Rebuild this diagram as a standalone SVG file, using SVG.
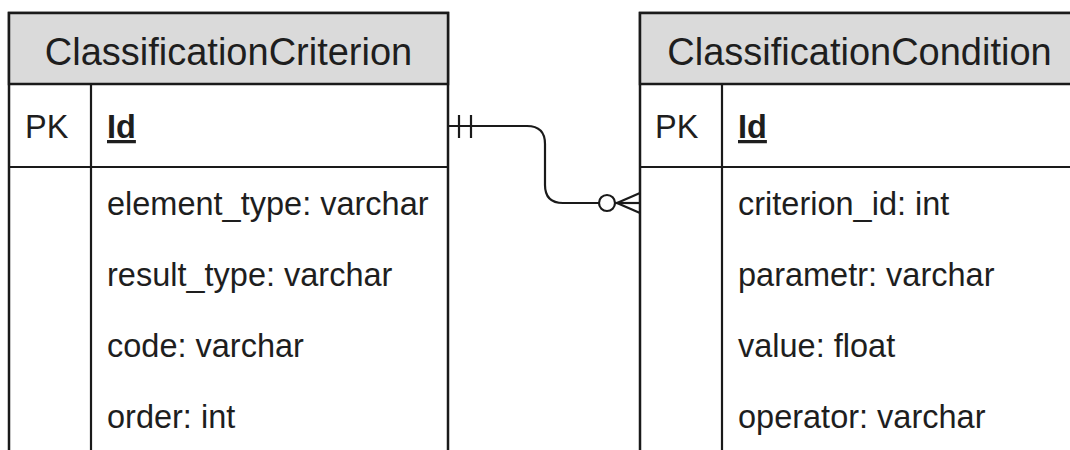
<svg xmlns="http://www.w3.org/2000/svg" width="1070" height="450" viewBox="0 0 1070 450">
  <style>
    .frame { fill: #ffffff; stroke: #1a1a1a; stroke-width: 2.5; }
    .head { fill: #dadada; stroke: #1a1a1a; stroke-width: 2.5; }
    .rule { stroke: #1a1a1a; stroke-width: 2.2; fill: none; }
    .title { font-family: "Liberation Sans", Arial, sans-serif; font-size: 38px; fill: #1e1e1e; text-anchor: middle; }
    .cell { font-family: "Liberation Sans", Arial, sans-serif; font-size: 32.5px; fill: #1e1e1e; }
    .key { font-weight: bold; text-decoration: underline; }
    .link { stroke: #1a1a1a; stroke-width: 2.2; fill: none; }
  </style>

  <!-- Entity: ClassificationCriterion -->
  <g id="classification-criterion">
    <rect class="frame" x="9" y="13" width="439" height="460"/>
    <rect class="head" x="9" y="13" width="439" height="71"/>
    <line class="rule" x1="9" y1="167" x2="448" y2="167"/>
    <line class="rule" x1="91" y1="84" x2="91" y2="460"/>
    <text class="title" x="228.5" y="65">ClassificationCriterion</text>
    <text class="cell" x="25" y="138">PK</text>
    <text class="cell key" x="107" y="138">Id</text>
    <text class="cell" x="107" y="215">element_type: varchar</text>
    <text class="cell" x="107" y="286">result_type: varchar</text>
    <text class="cell" x="107" y="357">code: varchar</text>
    <text class="cell" x="107" y="428">order: int</text>
  </g>

  <!-- Entity: ClassificationCondition -->
  <g id="classification-condition">
    <rect class="frame" x="640" y="13" width="439" height="460"/>
    <rect class="head" x="640" y="13" width="439" height="71"/>
    <line class="rule" x1="640" y1="167" x2="1079" y2="167"/>
    <line class="rule" x1="722" y1="84" x2="722" y2="460"/>
    <text class="title" x="859.5" y="65">ClassificationCondition</text>
    <text class="cell" x="655" y="138">PK</text>
    <text class="cell key" x="738" y="138">Id</text>
    <text class="cell" x="738" y="215">criterion_id: int</text>
    <text class="cell" x="738" y="286">parametr: varchar</text>
    <text class="cell" x="738" y="357">value: float</text>
    <text class="cell" x="738" y="428">operator: varchar</text>
  </g>

  <!-- Relationship: one criterion to zero-or-many conditions -->
  <g id="connectors">
    <path class="link" d="M448 126 H527 Q545 126 545 144 V185 Q545 203 563 203 H599"/>
    <!-- mandatory one -->
    <line class="link" x1="459" y1="115" x2="459" y2="138"/>
    <line class="link" x1="471" y1="115" x2="471" y2="138"/>
    <!-- optional many -->
    <circle class="link" cx="607" cy="203" r="8"/>
    <line class="link" x1="615" y1="203" x2="640" y2="203"/>
    <line class="link" x1="617" y1="203" x2="640" y2="193"/>
    <line class="link" x1="617" y1="203" x2="640" y2="213"/>
  </g>
</svg>
